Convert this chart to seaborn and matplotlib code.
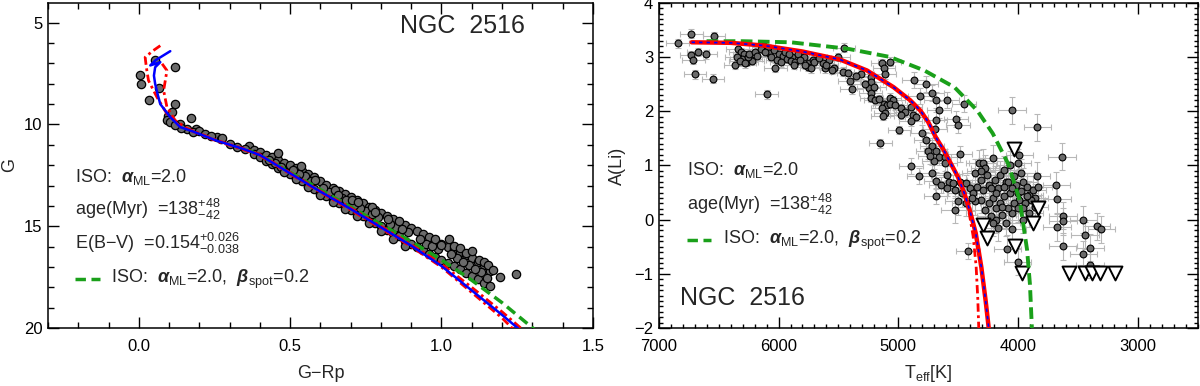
import matplotlib
matplotlib.use("Agg")
import matplotlib.pyplot as plt
import numpy as np
import pandas as pd
import seaborn as sns
from matplotlib.ticker import MultipleLocator, FixedLocator

# ---------------- data: left panel (CMD) ----------------
cmd_top_x = [0.003, 0.007, 0.054, 0.121, 0.066, 0.035, 0.121, 0.098, 0.094, 0.104,
             0.110, 0.174, 0.135, 0.159, 0.190, 0.180, 0.200, 0.260, 0.270, 0.275,
             0.325, 0.363, 0.350, 0.300, 0.220, 0.240, 0.140, 0.120]
cmd_top_y = [7.55, 8.00, 6.83, 7.20, 8.20, 8.82, 9.00, 9.56, 9.80, 9.90,
             9.40, 9.66, 10.00, 10.20, 10.20, 10.35, 10.30, 10.60, 10.70, 10.65,
             11.10, 11.07, 11.20, 10.95, 10.45, 10.55, 10.15, 10.05]

cmd_band_x = [0.38, 0.38, 0.40, 0.40, 0.42, 0.42, 0.44, 0.44, 0.46, 0.46,
              0.48, 0.48, 0.50, 0.50, 0.52, 0.52, 0.54, 0.54, 0.56, 0.56,
              0.58, 0.58, 0.60, 0.60, 0.62, 0.62, 0.64, 0.64, 0.66, 0.66,
              0.68, 0.68, 0.70, 0.70, 0.72, 0.72, 0.74, 0.74, 0.76, 0.76,
              0.78, 0.78, 0.80, 0.80, 0.82, 0.82, 0.84, 0.84, 0.86, 0.86,
              0.88, 0.88, 0.90, 0.90, 0.92, 0.92, 0.94, 0.94, 0.96, 0.96,
              0.98, 0.98, 1.00, 1.00, 1.02, 1.02, 1.04, 1.04, 1.06, 1.06,
              1.08, 1.08, 1.10, 1.10, 1.12, 1.12, 1.14, 1.14, 1.16, 1.16,
              0.45, 0.55, 0.65, 0.75, 0.85, 0.95, 1.05, 1.09, 1.13, 1.15,
              1.11, 1.07, 1.03, 0.99, 0.97, 0.93, 0.89, 0.87, 0.83, 0.79,
              0.77, 0.73, 0.71, 0.67, 0.63, 0.61, 0.57, 0.53, 0.51, 0.47, 0.43,
              0.48, 0.52, 0.56, 0.60, 0.64, 0.68, 0.72, 0.76, 0.80, 0.84, 0.88]
cmd_band_y = [11.25, 11.45, 11.35, 11.60, 11.50, 11.80, 11.60, 11.95, 11.75, 12.15,
              11.90, 12.30, 12.00, 12.45, 12.15, 12.65, 12.30, 12.80, 12.45, 13.00,
              12.60, 13.15, 12.80, 13.35, 12.95, 13.50, 13.10, 13.65, 13.25, 13.85,
              13.40, 14.00, 13.55, 14.20, 13.70, 14.35, 13.85, 14.50, 14.05, 14.70,
              14.20, 14.85, 14.35, 15.00, 14.50, 15.20, 14.65, 15.35, 14.80, 15.50,
              14.95, 15.70, 15.10, 15.85, 15.25, 16.00, 15.40, 16.15, 15.55, 16.35,
              15.70, 16.50, 15.85, 16.65, 16.00, 16.80, 16.10, 16.95, 16.25, 17.10,
              16.40, 17.30, 16.55, 17.45, 16.75, 17.60, 16.90, 17.80, 17.20, 17.95,
              11.90, 12.55, 13.45, 14.25, 15.05, 15.85, 16.55, 16.90, 17.25, 17.55,
              17.10, 16.75, 16.35, 16.10, 15.95, 15.60, 15.30, 15.15, 14.90, 14.55,
              14.40, 14.10, 13.95, 13.60, 13.30, 13.10, 12.80, 12.45, 12.25, 12.10, 11.75,
              12.35, 12.70, 13.05, 13.45, 13.80, 14.15, 14.50, 14.85, 15.25, 15.60, 15.95]

cmd_bin_x = [0.461, 0.535, 0.582, 0.648, 0.659, 0.686, 0.706, 0.725, 0.769, 0.782,
             0.824, 0.860, 0.980, 1.024, 1.000, 1.040, 1.060, 1.080, 1.100, 1.125,
             1.140, 1.155, 1.170, 1.195, 1.247]
cmd_bin_y = [11.40, 12.06, 12.72, 13.24, 13.48, 13.73, 13.69, 13.80, 14.07, 14.29,
             14.62, 14.74, 15.60, 15.64, 15.90, 15.98, 16.09, 16.30, 16.22, 16.66,
             16.75, 16.90, 17.15, 17.48, 17.35]

iso_blue_x = [0.104, 0.080, 0.055, 0.038, 0.071, 0.054, 0.050, 0.054, 0.062, 0.071,
              0.104, 0.137, 0.180, 0.258, 0.345, 0.400, 0.500, 0.600, 0.700, 0.800,
              0.900, 1.000, 1.100, 1.200, 1.260]
iso_blue_y = [6.40, 6.62, 6.85, 7.10, 6.94, 7.19, 7.60, 8.00, 8.50, 9.00,
              9.64, 10.13, 10.35, 10.80, 11.20, 11.50, 12.40, 13.30, 14.15, 15.05,
              15.95, 16.95, 18.15, 19.35, 20.10]
iso_red1_x = [0.071, 0.045, 0.021, 0.025, 0.032, 0.060, 0.093, 0.137, 0.180, 0.258,
              0.345, 0.400, 0.500, 0.600, 0.700, 0.800, 0.900, 1.000, 1.100, 1.200, 1.240]
iso_red1_y = [6.13, 6.40, 6.70, 7.20, 7.84, 8.66, 9.48, 10.10, 10.35, 10.82,
              11.23, 11.53, 12.43, 13.33, 14.20, 15.10, 16.00, 17.00, 18.25, 19.50, 20.10]
iso_red2_x = [0.077, 0.093, 0.088, 0.082, 0.093, 0.120, 0.160, 0.258, 0.345, 0.400,
              0.500, 0.600, 0.700, 0.800, 0.900, 1.000, 1.100, 1.200, 1.270]
iso_red2_y = [7.02, 7.35, 7.80, 8.33, 9.15, 9.80, 10.20, 10.78, 11.18, 11.47,
              12.37, 13.27, 14.10, 15.00, 15.90, 16.85, 18.00, 19.20, 20.10]
iso_green_x = [0.36, 0.40, 0.50, 0.60, 0.70, 0.80, 0.90, 1.00, 1.10, 1.20, 1.31]
iso_green_y = [11.25, 11.50, 12.35, 13.20, 14.05, 14.90, 15.75, 16.65, 17.65, 18.75, 20.10]

# ---------------- data: right panel (Li) ----------------
hot_teff = [6841, 6729, 6538, 6729, 6672, 6713, 6608, 6697, 6547, 6363,
            6340, 6315, 6289, 6308, 6267, 6235, 6219, 6257, 6124, 6092,
            6076, 6034, 5996, 5964, 5932, 5885, 5900, 5862, 5837, 5789,
            5748, 5709, 5757, 5725, 5630, 5582, 5534, 5464, 5614, 5556,
            6028, 6098, 5454, 5311, 5406, 5390, 5231, 5225, 5136, 5120,
            5110, 5072, 5247, 5231, 5225, 5193, 5161, 5120, 5072, 5040,
            5097, 5136, 5065, 5024, 4976, 4944, 4897, 4881, 4849, 4976,
            5110, 5129, 4992, 4897, 5151,
            6350, 6320, 6280, 6250, 6200, 6180, 6150, 6110, 6060, 6010,
            5980, 5950, 5915, 5870, 5820, 5780, 5700, 5660, 5600, 5500,
            5420, 5350, 5280, 5200]
hot_ali = [3.25, 3.43, 3.38, 3.03, 3.09, 2.95, 3.05, 2.68, 2.60, 2.85,
           3.15, 3.09, 3.06, 2.97, 2.91, 2.97, 2.93, 3.00, 3.21, 3.15,
           3.07, 3.12, 3.06, 3.01, 2.97, 3.00, 2.93, 2.91, 3.06, 3.00,
           2.88, 2.94, 2.82, 2.79, 2.88, 2.94, 2.79, 2.73, 2.79, 2.76,
           2.80, 2.31, 3.17, 2.68, 2.56, 2.40, 2.63, 2.54, 2.88, 2.79,
           2.68, 2.91, 2.42, 2.33, 2.24, 2.20, 2.22, 2.14, 2.25, 2.20,
           2.11, 2.05, 2.13, 2.11, 2.05, 1.99, 2.08, 1.93, 1.89, 1.93,
           1.96, 1.91, 1.65, 1.81, 1.41,
           3.00, 2.92, 2.88, 3.05, 3.10, 3.02, 3.15, 3.10, 3.00, 2.95,
           2.90, 3.10, 3.05, 2.85, 2.95, 2.85, 2.90, 2.98, 2.85, 3.00,
           2.70, 2.65, 2.50, 2.45]
mid_teff = [4865, 4769, 4817, 4721, 4689, 4594, 4657, 4450, 4689, 4696,
            4514, 4498, 4801, 4769, 4721, 4753, 4689, 4657, 4705, 4610,
            4610, 4482, 4737, 4897, 4823, 4721, 4689, 4594, 4578, 4689,
            4642, 4594, 4546, 4530, 4482, 4434, 4403, 4377, 4418]
mid_ali = [2.57, 2.50, 2.28, 2.34, 2.20, 2.20, 2.03, 2.14, 1.84, 1.68,
           1.85, 1.75, 1.59, 1.47, 1.35, 1.27, 1.26, 1.16, 1.09, 1.16,
           1.05, 1.21, 1.18, 0.99, 0.80, 0.86, 0.72, 0.83, 0.70, 0.44,
           0.64, 0.58, 0.67, 0.54, 0.70, 0.67, 0.58, 0.50, -0.58]
cool_teff = [4355, 4323, 4291, 4275, 4211, 4307, 4259, 4339, 4291, 4243,
             4196, 4164, 4148, 4116, 4100, 4068, 4036, 4004, 3988, 4020,
             4004, 3972, 3956, 3925, 3909, 3877, 3861, 3845, 3829, 3893,
             3941, 3988, 4036, 4068, 4116, 4148, 4180, 4211, 4243, 4275,
             4307, 4355, 4387, 4434, 4498, 4530, 4466, 4227, 4180, 4132,
             4100, 4052, 4164, 4211, 3956, 3909, 3861, 3956, 4052, 4004,
             4084, 4132, 3925, 3972, 4052, 4084, 4116, 4180, 4227, 4307,
             4052, 3838, 3631, 4089, 4004, 3679, 3676, 3622, 3622, 3676,
             3622, 3453, 3440, 3398, 3453, 3399, 3344, 3303]
cool_ali = [0.86, 1.04, 1.05, 0.95, 1.13, 0.73, 0.83, 0.61, 0.54, 0.64,
            0.73, 0.58, 0.83, 0.92, 0.70, 1.01, 0.80, 1.05, 1.19, 0.64,
            0.49, 0.86, 0.70, 0.61, 0.46, 0.55, 0.40, 0.81, 0.61, 0.37,
            0.31, 0.37, 0.31, 0.49, 0.43, 0.31, 0.21, 0.40, 0.31, 0.18,
            0.37, 0.34, 0.40, 0.31, 0.34, 0.18, 0.49, 0.06, 0.00, 0.09,
            -0.06, -0.18, -0.15, -0.06, 0.21, 0.12, 0.24, 0.00, 0.12, 0.21,
            0.21, 0.24, 0.43, 0.52, 0.58, 0.70, 0.61, 0.49, 0.58, 0.89,
            2.02, 1.70, 1.16, -0.54, -0.78, 0.63, 0.38, 0.07, -0.03, -0.14,
            -0.49, 0.00, -0.29, -0.52, -0.64, -0.83, -0.12, -0.18]
hot_err_teff, hot_err_ali = 95, 0.08
mid_err_teff, mid_err_ali = 100, 0.15
cool_err_teff, cool_err_ali = 115, 0.25

lim_teff = [4033, 4293, 4255, 3829, 3876, 4023, 3969, 3571, 3444, 3380, 3317, 3190]
lim_ali = [1.31, -0.10, -0.34, 0.21, -0.07, -0.48, -0.98, -0.98, -0.98, -0.98, -0.98, -0.98]

li_main_teff = [6726, 6400, 6121, 5800, 5484, 5261, 5038, 4900, 4815, 4750,
                4687, 4620, 4560, 4500, 4449, 4400, 4353, 4306, 4270, 4242]
li_main_ali = [3.27, 3.26, 3.21, 3.10, 2.95, 2.75, 2.44, 2.20, 2.01, 1.80,
               1.52, 1.28, 1.03, 0.78, 0.49, 0.15, -0.25, -0.88, -1.50, -2.05]
li_dd_teff = [4500, 4449, 4410, 4375, 4350, 4336, 4327]
li_dd_ali = [0.78, 0.49, 0.15, -0.30, -0.85, -1.45, -2.05]
li_green_teff = [6601, 6300, 5897, 5420, 5070, 4782, 4530, 4340, 4211, 4082,
                 3986, 3924, 3900, 3883]
li_green_ali = [3.29, 3.29, 3.27, 3.15, 3.00, 2.75, 2.44, 2.01, 1.59, 1.03,
                0.36, -0.56, -1.20, -2.05]

# ---------------- style ----------------
sns.set_theme(style="white")
plt.rcParams["font.family"] = ["Liberation Sans", "DejaVu Sans"]
plt.rcParams["mathtext.fontset"] = "custom"
plt.rcParams["mathtext.rm"] = "Liberation Sans"
plt.rcParams["mathtext.it"] = "Liberation Sans:italic"
plt.rcParams["mathtext.bf"] = "Liberation Sans:bold:italic"
plt.rcParams["axes.unicode_minus"] = True

GREY = "#6a6a6a"
GREEN = "#1aa01a"
TXT = 13

fig = plt.figure(figsize=(12, 3.86), dpi=100)
ax1 = fig.add_axes([0.040, 0.150, 0.454, 0.843])
ax2 = fig.add_axes([0.549, 0.150, 0.449, 0.843])


def style_axis(ax):
    for s in ax.spines.values():
        s.set_color("black")
        s.set_linewidth(1.1)
    ax.tick_params(which="both", direction="in", top=True, right=True,
                   bottom=True, left=True, colors="black", labelsize=12, width=1.0)
    ax.tick_params(which="major", length=8)
    ax.tick_params(which="minor", length=4)
    ax.tick_params(axis="x", pad=8)
    ax.tick_params(axis="y", pad=4)


def iso_line(ax, x, y, color, lw, z, dashes=None):
    sns.lineplot(x=x, y=y, ax=ax, sort=False, estimator=None, color=color,
                 lw=lw, zorder=z)
    line = ax.lines[-1]
    if dashes is not None:
        line.set_dashes(dashes)
    return line


# ---------------- left panel ----------------
cmd_x = cmd_top_x + cmd_band_x + cmd_bin_x
cmd_y = cmd_top_y + cmd_band_y + cmd_bin_y
sns.scatterplot(x=cmd_x, y=cmd_y, ax=ax1, color=GREY, edgecolor="black",
                s=36, linewidth=0.9, zorder=2, legend=False)
iso_line(ax1, iso_green_x, iso_green_y, GREEN, 2.5, 3, (3, 1.6))
iso_line(ax1, iso_red1_x, iso_red1_y, "red", 2.0, 4, (3, 1.3, 1, 1.3))
iso_line(ax1, iso_red2_x, iso_red2_y, "red", 2.0, 4, (3, 1.3, 1, 1.3))
iso_line(ax1, iso_blue_x, iso_blue_y, "blue", 1.8, 5)

ax1.set_xlim(-0.3, 1.5)
ax1.set_ylim(20, 4.02)
ax1.xaxis.set_major_locator(FixedLocator([0.0, 0.5, 1.0, 1.5]))
ax1.xaxis.set_minor_locator(MultipleLocator(0.1))
ax1.set_xticklabels(["0.0", "0.5", "1.0", "1.5"])
ax1.yaxis.set_major_locator(FixedLocator([5, 10, 15, 20]))
ax1.yaxis.set_minor_locator(MultipleLocator(1))
ax1.set_xlabel("G\u2212Rp", fontsize=TXT, labelpad=8)
ax1.set_ylabel("G", fontsize=TXT, labelpad=4)
style_axis(ax1)

ax1.text(0.875, 0.929, "NGC  2516", transform=ax1.transAxes, fontsize=18,
         ha="right", va="center")
ax1.text(0.05, 0.463, r"ISO:  $\mathbf{\alpha}_{\mathrm{ML}}$=2.0",
         transform=ax1.transAxes, fontsize=TXT, va="center")
ax1.text(0.05, 0.365, r"age(Myr)  =138$^{+48}_{-42}$",
         transform=ax1.transAxes, fontsize=TXT, va="center")
ax1.text(0.05, 0.261, "E(B\u2212V)  =0.154" + r"$^{+0.026}_{-0.038}$",
         transform=ax1.transAxes, fontsize=TXT, va="center")
ax1.plot([0.05, 0.095], [0.150, 0.150], transform=ax1.transAxes, color=GREEN,
         lw=2.5, dashes=(3, 1.6))
ax1.text(0.116, 0.150,
         r"ISO:  $\mathbf{\alpha}_{\mathrm{ML}}$=2.0,  $\mathbf{\beta}_{\mathrm{spot}}$=0.2",
         transform=ax1.transAxes, fontsize=TXT, va="center")

# ---------------- right panel ----------------
groups = [(hot_teff, hot_ali, hot_err_teff, hot_err_ali),
          (mid_teff, mid_ali, mid_err_teff, mid_err_ali),
          (cool_teff, cool_ali, cool_err_teff, cool_err_ali)]
for t, a, et, ea in groups:
    ax2.errorbar(t, a, xerr=et, yerr=ea, fmt="none", ecolor="#b8b8b8",
                 elinewidth=0.8, capsize=2, capthick=0.8, zorder=1)
all_t = hot_teff + mid_teff + cool_teff
all_a = hot_ali + mid_ali + cool_ali
sns.scatterplot(x=all_t, y=all_a, ax=ax2, color=GREY, edgecolor="black",
                s=24, linewidth=0.8, zorder=3, legend=False)
sns.scatterplot(x=lim_teff, y=lim_ali, ax=ax2, marker="v", color="white",
                edgecolor="black", s=100, linewidth=1.4, zorder=4, legend=False)

iso_line(ax2, li_green_teff, li_green_ali, GREEN, 2.8, 5, (3, 1.4))
iso_line(ax2, li_dd_teff, li_dd_ali, "red", 2.0, 5, (3, 1.3, 1, 1.3))
iso_line(ax2, li_main_teff, li_main_ali, "red", 3.2, 6)
iso_line(ax2, li_main_teff, li_main_ali, "blue", 1.2, 7, (2, 2.5))

ax2.set_xlim(7000, 2500)
ax2.set_ylim(-2, 4)
ax2.xaxis.set_major_locator(FixedLocator([7000, 6000, 5000, 4000, 3000]))
ax2.xaxis.set_minor_locator(MultipleLocator(100))
ax2.yaxis.set_major_locator(MultipleLocator(1))
ax2.yaxis.set_minor_locator(MultipleLocator(0.1))
ax2.set_xlabel(r"T$_{\mathrm{eff}}$[K]", fontsize=TXT, labelpad=6)
ax2.set_ylabel("A(Li)", fontsize=TXT, labelpad=6)
style_axis(ax2)
ax2.tick_params(which="minor", length=3)

ax2.text(0.052, 0.485, r"ISO:  $\mathbf{\alpha}_{\mathrm{ML}}$=2.0",
         transform=ax2.transAxes, fontsize=TXT, va="center")
ax2.text(0.052, 0.38, r"age(Myr)  =138$^{+48}_{-42}$",
         transform=ax2.transAxes, fontsize=TXT, va="center")
ax2.plot([0.052, 0.096], [0.27, 0.27], transform=ax2.transAxes, color=GREEN,
         lw=2.5, dashes=(3, 1.6))
ax2.text(0.119, 0.27,
         r"ISO:  $\mathbf{\alpha}_{\mathrm{ML}}$=2.0,  $\mathbf{\beta}_{\mathrm{spot}}$=0.2",
         transform=ax2.transAxes, fontsize=TXT, va="center")
ax2.text(0.04, 0.092, "NGC  2516", transform=ax2.transAxes, fontsize=18,
         ha="left", va="center")

fig.savefig("out.png", dpi=100)
